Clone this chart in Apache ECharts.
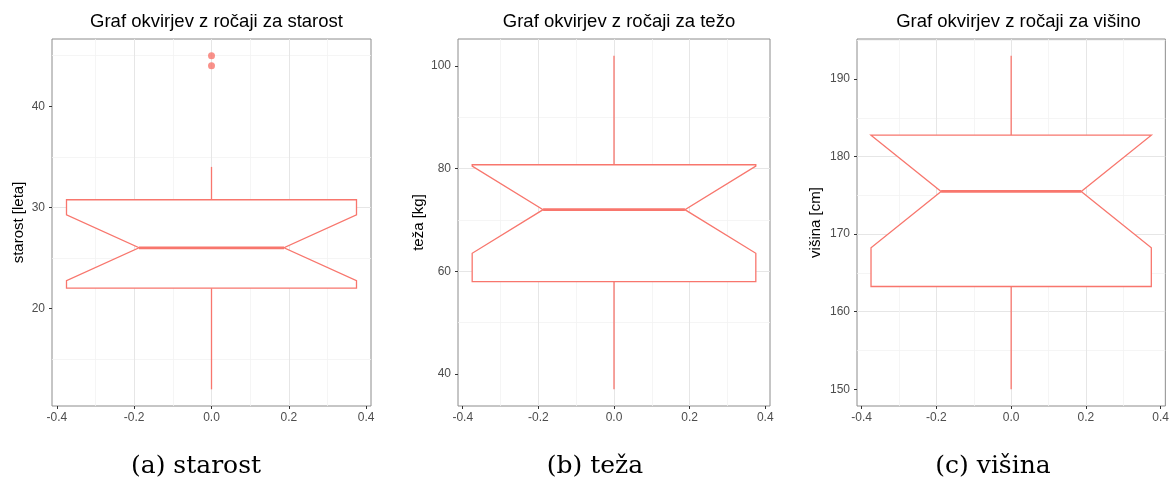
<!DOCTYPE html>
<html>
<head>
<meta charset="utf-8">
<script src="https://cdn.jsdelivr.net/npm/echarts@6/dist/echarts.min.js"></script>
<style>
  html, body { margin: 0; padding: 0; background: #fff; }
  #chart { width: 1172px; height: 486px; }
</style>
</head>
<body>
<div id="chart"></div>
<script>
// Notched boxplots (ggplot style), one per variable
// stats order: min, q1, notchLo, median, notchHi, q3, max
const panelTitles = ["Graf okvirjev z ročaji za starost", "Graf okvirjev z ročaji za težo", "Graf okvirjev z ročaji za višino"];
const yNames = ["starost [leta]", "teža [kg]", "višina [cm]"];
const captions = ["(a) starost", "(b) teža", "(c) višina"];

const starostStats = [12, 22, 22.75, 26, 29.25, 30.75, 34];
const starostOutliers = [44, 45];
const tezaStats = [37, 58, 63.5, 72, 80.5, 80.75, 102];
const tezaOutliers = [];
const visinaStats = [150, 163.25, 168.25, 175.5, 182.75, 182.75, 193];
const visinaOutliers = [];

const xTicks = [-0.4, -0.2, 0, 0.2, 0.4];
const starostTicks = [20, 30, 40];
const tezaTicks = [40, 60, 80, 100];
const visinaTicks = [150, 160, 170, 180, 190];

const boxHalf = 0.375;
const COL = "#F8766D";
const SANS = "Liberation Sans, Arial, sans-serif";

const panels = [
  { stats: starostStats, out: starostOutliers, ticks: starostTicks, split: 5, left: 52, width: 319, cap: 191, gap: 26 },
  { stats: tezaStats, out: tezaOutliers, ticks: tezaTicks, split: 3, left: 458, width: 312, cap: 590, gap: 32 },
  { stats: visinaStats, out: visinaOutliers, ticks: visinaTicks, split: 5, left: 857, width: 313, cap: 988, gap: 34 },
];

// ggplot-like 5% expansion of the data range
function yRange(stats, out) {
  const vals = stats.concat(out);
  const lo = Math.min(...vals), hi = Math.max(...vals);
  const pad = (hi - lo) * 0.05;
  return [lo - pad, hi + pad];
}

function seg(api, a, b, style) {
  const p = api.coord(a), q = api.coord(b);
  return { type: "line", shape: { x1: p[0], y1: p[1], x2: q[0], y2: q[1] }, style };
}

function renderBox(params, api) {
  const [mn, q1, nLo, med, nHi, q3, mx] = [0, 1, 2, 3, 4, 5, 6].map(i => api.value(i));
  const h = boxHalf, n = boxHalf / 2;
  const pts = [
    [-h, q3], [-h, nHi], [-n, med], [-h, nLo], [-h, q1],
    [h, q1], [h, nLo], [n, med], [h, nHi], [h, q3]
  ].map(p => api.coord(p));
  const line = { stroke: COL, lineWidth: 1.3, fill: null };
  return {
    type: "group",
    children: [
      seg(api, [0, q3], [0, mx], line),
      seg(api, [0, q1], [0, mn], line),
      { type: "polygon", shape: { points: pts }, style: { stroke: COL, lineWidth: 1.3, fill: "#fff" } },
      seg(api, [-n, med], [n, med], { stroke: COL, lineWidth: 2.8 }),
    ]
  };
}

const chart = echarts.init(document.getElementById("chart"), null, { renderer: "canvas" });

const grid = [], xAxis = [], yAxis = [], series = [], title = [];
const axisText = { color: "#4d4d4d", fontSize: 12, fontFamily: SANS };
const gridLine = { show: true, lineStyle: { color: "#e6e6e6", width: 1 }, showMinLine: false, showMaxLine: false };
const minorLine = { show: true, lineStyle: { color: "#f2f2f2", width: 0.8 } };
const tick = { show: true, length: 3, lineStyle: { color: "#333" } };

panels.forEach((p, i) => {
  grid.push({ left: p.left, top: 39, width: p.width, height: 367, show: true, borderColor: "#8c8c8c", borderWidth: 1, backgroundColor: "transparent" });
  const [ymin, ymax] = yRange(p.stats, p.out);
  xAxis.push({
    type: "value", gridIndex: i, min: -0.4125, max: 0.4125, splitNumber: 5,
    axisLine: { show: false, onZero: false },
    axisTick: { ...tick, customValues: xTicks },
    axisLabel: { ...axisText, margin: 6, customValues: xTicks, formatter: v => v.toFixed(1) },
    splitLine: gridLine, minorTick: { show: false, splitNumber: 2 }, minorSplitLine: minorLine,
  });
  yAxis.push({
    type: "value", gridIndex: i, min: ymin, max: ymax, splitNumber: p.split,
    name: yNames[i], nameLocation: "middle", nameGap: p.gap, nameRotate: 90,
    nameTextStyle: { color: "#000", fontSize: 15, fontFamily: SANS },
    axisLine: { show: false, onZero: false },
    axisTick: { ...tick, customValues: p.ticks },
    axisLabel: { ...axisText, margin: 7, customValues: p.ticks },
    splitLine: gridLine, minorTick: { show: false, splitNumber: 2 }, minorSplitLine: minorLine,
  });
  series.push({
    type: "custom", xAxisIndex: i, yAxisIndex: i, renderItem: renderBox,
    data: [p.stats], z: 3, silent: true,
  });
  series.push({
    type: "scatter", xAxisIndex: i, yAxisIndex: i, symbolSize: 7, z: 4,
    itemStyle: { color: COL }, data: p.out.map(v => [0, v]), silent: true,
  });
  title.push({
    text: panelTitles[i], left: p.left + p.width / 2, top: 7, textAlign: "center",
    textStyle: { fontSize: 18.5, fontWeight: "normal", color: "#000", fontFamily: SANS }
  });
  title.push({
    text: captions[i], left: p.cap, top: 449, textAlign: "center",
    textStyle: { fontSize: 25, fontWeight: "normal", color: "#000", fontFamily: "DejaVu Serif, Liberation Serif, serif" }
  });
});

chart.setOption({ animation: false, backgroundColor: "#fff", title, grid, xAxis, yAxis, series });
window.addEventListener("resize", () => chart.resize());
</script>
</body>
</html>
